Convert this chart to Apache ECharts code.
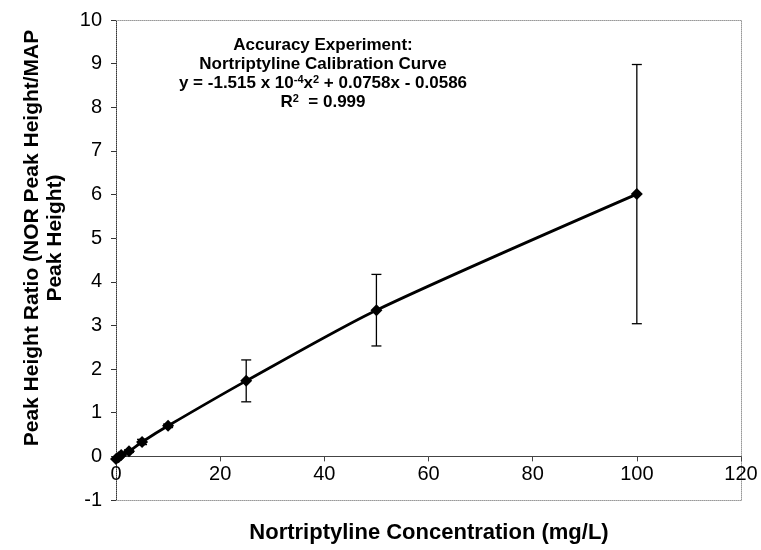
<!DOCTYPE html>
<html>
<head>
<meta charset="utf-8">
<script src="https://cdn.jsdelivr.net/npm/echarts@6/dist/echarts.min.js"></script>
<style>
html,body{margin:0;padding:0;background:#fff;}
#chart{width:761px;height:550px;}
</style>
</head>
<body>
<div id="chart"></div>
<script>
// Data
const concentration = [0, 0.5, 1, 2.5, 5, 10, 25, 50, 100];
const peakRatio = [-0.06, -0.02, 0.03, 0.12, 0.33, 0.70, 1.73, 3.35, 6.01];
const ratioSD = [0.01, 0.01, 0.02, 0.03, 0.06, 0.04, 0.48, 0.82, 2.97];
const xTicks = [0, 20, 40, 60, 80, 100, 120];
const yTicks = [-1, 0, 1, 2, 3, 4, 5, 6, 7, 8, 9, 10];
const xTitle = 'Nortriptyline Concentration (mg/L)';
const yTitle = 'Peak Height Ratio (NOR Peak Height/MAP\nPeak Height)';

const points = concentration.map((c, i) => [c, peakRatio[i]]);
const bars = concentration.map((c, i) => [c, peakRatio[i] - ratioSD[i], peakRatio[i] + ratioSD[i]]);

const xMin = xTicks[0], xMax = xTicks[xTicks.length - 1], xStep = xTicks[1] - xTicks[0];
const yMin = yTicks[0], yMax = yTicks[yTicks.length - 1], yStep = yTicks[1] - yTicks[0];
const FONT = 'Liberation Sans, Arial, sans-serif';

const W = 761, H = 550;
const G = {left: 116, right: 20, top: 20, bottom: 50};
const gridH = H - G.top - G.bottom;
// distance of the y = 0 line above the bottom of the plot
const zeroLift = gridH * (0 - yMin) / (yMax - yMin);

const chart = echarts.init(document.getElementById('chart'), null, {renderer: 'canvas'});
const borderAxis = {
  min: xMin, max: xMax, interval: xStep,
  axisLine: {show: true, onZero: false, lineStyle: {color: '#999', type: 'dotted', width: 1}},
  axisTick: {show: false}, axisLabel: {show: false}, splitLine: {show: false}
};
chart.setOption({
  animation: false,
  backgroundColor: '#fff',
  grid: Object.assign({containLabel: false}, G),
  xAxis: [
    {
      type: 'value', min: xMin, max: xMax, interval: xStep, position: 'bottom',
      offset: -zeroLift,
      axisLine: {show: true, onZero: false, lineStyle: {color: '#444', width: 1}},
      axisTick: {show: true, inside: false, length: 5, lineStyle: {color: '#444'}},
      axisLabel: {margin: 8, fontSize: 20, color: '#000', fontFamily: FONT},
      splitLine: {show: false}
    },
    Object.assign({type: 'value', position: 'top'}, borderAxis),
    Object.assign({type: 'value', position: 'bottom'}, borderAxis)
  ],
  yAxis: [
    {
      type: 'value', min: yMin, max: yMax, interval: yStep, position: 'left',
      axisLine: {show: true, onZero: false, lineStyle: {color: '#333', type: 'dotted', width: 1}},
      axisTick: {show: true, inside: false, length: 5, lineStyle: {color: '#333'}},
      axisLabel: {margin: 14, fontSize: 20, color: '#000', fontFamily: FONT},
      splitLine: {show: false}
    },
    {
      type: 'value', min: yMin, max: yMax, interval: yStep, position: 'right',
      axisLine: {show: true, onZero: false, lineStyle: {color: '#999', type: 'dotted', width: 1}},
      axisTick: {show: false}, axisLabel: {show: false}, splitLine: {show: false}
    }
  ],
  series: [
    {
      type: 'custom',
      xAxisIndex: 0, yAxisIndex: 0,
      data: bars,
      z: 3,
      renderItem: function (params, api) {
        const x = api.value(0);
        const lo = api.coord([x, api.value(1)]);
        const hi = api.coord([x, api.value(2)]);
        const cap = 5;
        const st = {stroke: '#000', lineWidth: 1.3};
        return {
          type: 'group',
          children: [
            {type: 'line', shape: {x1: lo[0], y1: lo[1], x2: hi[0], y2: hi[1]}, style: st},
            {type: 'line', shape: {x1: lo[0] - cap, y1: lo[1], x2: lo[0] + cap, y2: lo[1]}, style: st},
            {type: 'line', shape: {x1: hi[0] - cap, y1: hi[1], x2: hi[0] + cap, y2: hi[1]}, style: st}
          ]
        };
      }
    },
    {
      type: 'line',
      xAxisIndex: 0, yAxisIndex: 0,
      data: points,
      smooth: 0.25,
      symbol: 'diamond',
      symbolSize: 12,
      showAllSymbol: true,
      lineStyle: {color: '#000', width: 2.8},
      itemStyle: {color: '#000'},
      z: 4
    }
  ],
  graphic: [
    {
      type: 'text', x: 323, y: 74, z: 10,
      style: {
        text: 'Accuracy Experiment:\nNortriptyline Calibration Curve\n' +
              'y = -1.515 x 10{sup|-4}x{sup|2} + 0.0758x - 0.0586\nR{sup|2}  = 0.999',
        align: 'center', verticalAlign: 'middle',
        font: 'bold 17px ' + FONT, fill: '#000', lineHeight: 19,
        rich: {
          sup: {fontSize: 11, fontWeight: 'bold', fontFamily: FONT, verticalAlign: 'top', lineHeight: 19, padding: [0, 0, 7, 0]}
        }
      }
    },
    {
      type: 'text', x: 429, y: 533,
      style: {text: xTitle, align: 'center', verticalAlign: 'middle', font: 'bold 22px ' + FONT, fill: '#000'}
    },
    {
      type: 'text', x: 44, y: 238, rotation: Math.PI / 2,
      style: {text: yTitle, align: 'center', verticalAlign: 'middle', font: 'bold 21px ' + FONT, fill: '#000', lineHeight: 23}
    }
  ]
});
</script>
</body>
</html>
